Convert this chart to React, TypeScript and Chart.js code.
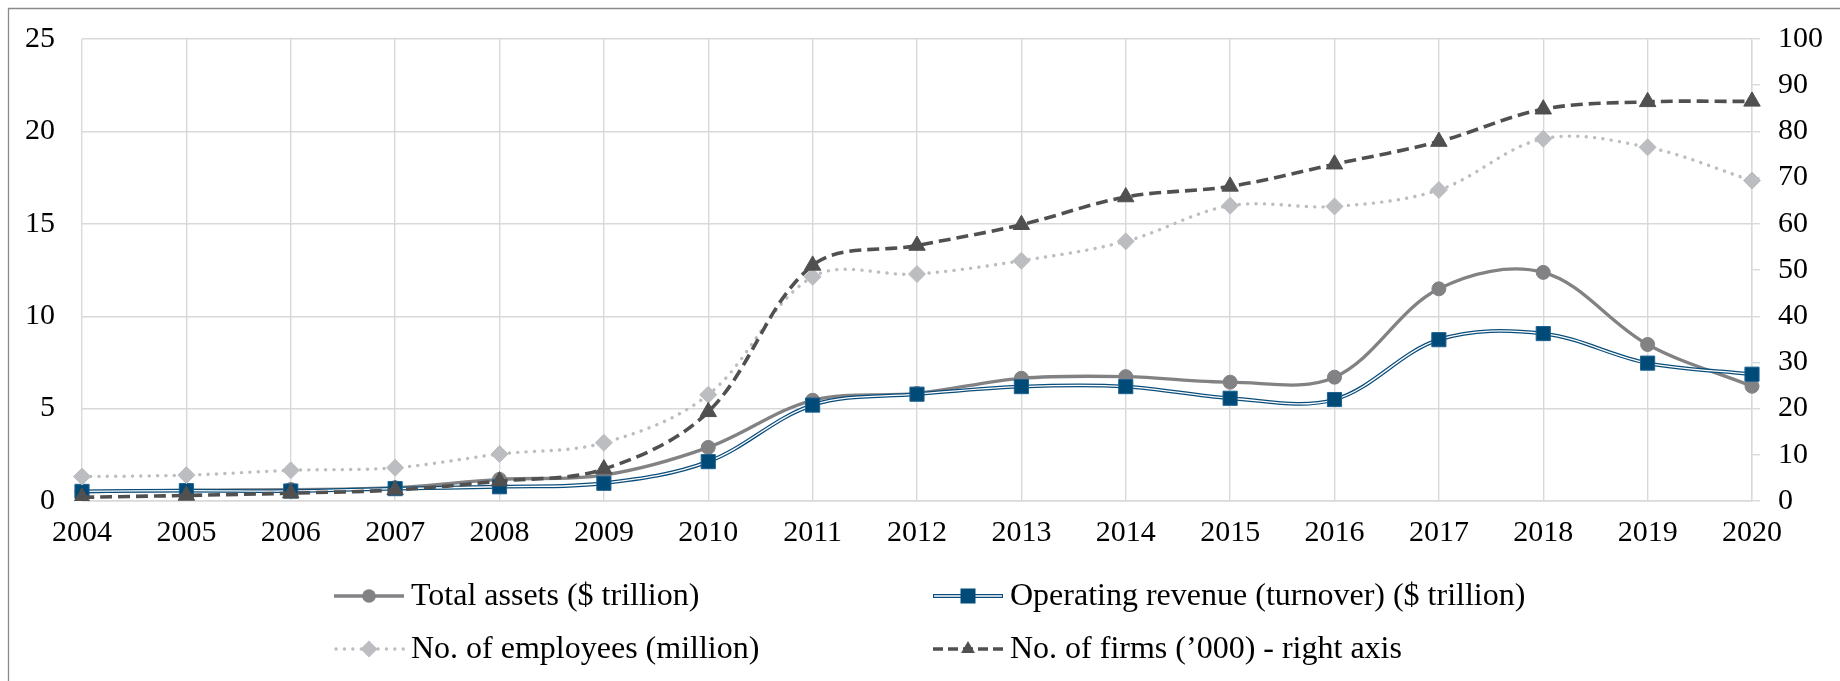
import React, { useEffect, useRef } from "react";
import { Chart, registerables } from "chart.js";

Chart.register(...registerables);

// Years on the category axis
const years = [
  "2004", "2005", "2006", "2007", "2008", "2009", "2010", "2011", "2012",
  "2013", "2014", "2015", "2016", "2017", "2018", "2019", "2020",
];

// Left axis series
const totalAssets = [0.5, 0.58, 0.62, 0.72, 1.17, 1.4, 2.9, 5.45, 5.82, 6.64, 6.73, 6.43, 6.7, 11.48, 12.37, 8.47, 6.21];
const operatingRevenue = [0.52, 0.56, 0.54, 0.67, 0.77, 0.96, 2.13, 5.19, 5.78, 6.19, 6.19, 5.56, 5.49, 8.73, 9.06, 7.46, 6.86];
const employees = [1.32, 1.4, 1.66, 1.8, 2.54, 3.15, 5.75, 12.13, 12.28, 13.0, 14.05, 15.98, 15.94, 16.83, 19.6, 19.14, 17.34];

// Right axis series ('000 firms)
const firms = [0.8, 1.2, 1.7, 2.4, 4.3, 6.9, 19.3, 51.0, 55.3, 59.8, 65.8, 68.1, 72.9, 77.8, 84.8, 86.4, 86.5];

// Axis ranges
const leftMax = 25;
const leftStep = 5;
const rightMax = 100;
const rightStep = 10;

// Legend labels
const labelAssets = "Total assets ($ trillion)";
const labelRevenue = "Operating revenue (turnover) ($ trillion)";
const labelEmployees = "No. of employees (million)";
const labelFirms = "No. of firms (\u2019000) - right axis";

const FONT = "'Liberation Serif', 'Times New Roman', serif";
const GRID = "#d9d9d9";
const C_ASSETS = "#828284";
const C_REV = "#0a4d7b";
const C_REV_MARK = "#004a78";
const C_EMP = "#bcbdc0";
const C_FIRMS = "#505050";
const TENSION = 0.35;

type Kind = "assets" | "revenue" | "employees" | "firms";

function drawSample(ctx: CanvasRenderingContext2D, kind: Kind, x0: number, y: number) {
  const x1 = x0 + 70;
  const cx = (x0 + x1) / 2;
  ctx.save();
  ctx.lineCap = "butt";
  if (kind === "assets") {
    ctx.strokeStyle = C_ASSETS;
    ctx.lineWidth = 3.3;
    ctx.beginPath();
    ctx.moveTo(x0, y);
    ctx.lineTo(x1, y);
    ctx.stroke();
    ctx.fillStyle = C_ASSETS;
    ctx.beginPath();
    ctx.arc(cx, y, 6.8, 0, Math.PI * 2);
    ctx.fill();
  } else if (kind === "revenue") {
    ctx.strokeStyle = C_REV;
    ctx.lineWidth = 4;
    ctx.beginPath();
    ctx.moveTo(x0, y);
    ctx.lineTo(x1, y);
    ctx.stroke();
    ctx.strokeStyle = "#ffffff";
    ctx.lineWidth = 1.4;
    ctx.beginPath();
    ctx.moveTo(x0 + 1, y);
    ctx.lineTo(x1 - 1, y);
    ctx.stroke();
    ctx.fillStyle = C_REV_MARK;
    ctx.fillRect(cx - 7.5, y - 7.5, 15, 15);
  } else if (kind === "employees") {
    ctx.strokeStyle = C_EMP;
    ctx.lineWidth = 3.3;
    ctx.lineCap = "round";
    ctx.setLineDash([0.1, 8.3]);
    ctx.beginPath();
    ctx.moveTo(x0 + 2, y);
    ctx.lineTo(x1, y);
    ctx.stroke();
    ctx.setLineDash([]);
    ctx.fillStyle = C_EMP;
    ctx.beginPath();
    ctx.moveTo(cx, y - 8.5);
    ctx.lineTo(cx + 8.5, y);
    ctx.lineTo(cx, y + 8.5);
    ctx.lineTo(cx - 8.5, y);
    ctx.closePath();
    ctx.fill();
  } else {
    ctx.strokeStyle = C_FIRMS;
    ctx.lineWidth = 3.6;
    ctx.setLineDash([10, 5]);
    ctx.beginPath();
    ctx.moveTo(x0, y);
    ctx.lineTo(x1, y);
    ctx.stroke();
    ctx.setLineDash([]);
    ctx.fillStyle = C_FIRMS;
    const r = 8;
    ctx.beginPath();
    ctx.moveTo(cx, y - r);
    ctx.lineTo(cx + r * 0.866, y + r * 0.5);
    ctx.lineTo(cx - r * 0.866, y + r * 0.5);
    ctx.closePath();
    ctx.fill();
  }
  ctx.restore();
}

// Frame lines and the two-column legend under the plot
const decorations = {
  id: "decorations",
  beforeDraw(chart: Chart) {
    const ctx = chart.ctx;
    ctx.save();
    ctx.strokeStyle = "#8a8a8a";
    ctx.lineWidth = 1.3;
    ctx.beginPath();
    ctx.moveTo(8.5, chart.height);
    ctx.lineTo(8.5, 8.5);
    ctx.lineTo(chart.width, 8.5);
    ctx.stroke();
    ctx.restore();
  },
  afterDraw(chart: Chart) {
    const ctx = chart.ctx;
    const items: [Kind, string, number, number][] = [
      ["assets", labelAssets, 334, 596],
      ["revenue", labelRevenue, 933, 596],
      ["employees", labelEmployees, 334, 649],
      ["firms", labelFirms, 933, 649],
    ];
    ctx.save();
    ctx.font = `32px ${FONT}`;
    ctx.fillStyle = "#000000";
    ctx.textBaseline = "middle";
    ctx.textAlign = "left";
    for (const [kind, text, x, y] of items) {
      drawSample(ctx, kind, x, y);
      ctx.fillText(text, x + 77, y + 1);
    }
    ctx.restore();
  },
};

// Keep label overhang from pushing the plot area down
const noVerticalPadding = (s: any) => {
  s.paddingTop = 0;
  s.paddingBottom = 0;
};

export default function App() {
  const canvasRef = useRef<HTMLCanvasElement | null>(null);

  useEffect(() => {
    document.body.style.margin = "0";
    document.body.style.overflow = "hidden";
    const canvas = canvasRef.current;
    if (!canvas) return;

    const tickFont = { family: FONT, size: 30 };

    const chart = new Chart(canvas, {
      type: "line",
      data: {
        labels: years,
        datasets: [
          {
            label: labelAssets,
            data: totalAssets,
            yAxisID: "y",
            borderColor: C_ASSETS,
            borderWidth: 3.3,
            tension: TENSION,
            pointStyle: "circle",
            pointRadius: 7,
            pointBackgroundColor: C_ASSETS,
            pointBorderColor: C_ASSETS,
            pointBorderWidth: 1,
            order: 4,
          },
          {
            label: "revenue-outline",
            data: operatingRevenue,
            yAxisID: "y",
            borderColor: C_REV,
            borderWidth: 3.8,
            tension: TENSION,
            pointRadius: 0,
            order: 3,
          },
          {
            label: labelRevenue,
            data: operatingRevenue,
            yAxisID: "y",
            borderColor: "#ffffff",
            borderWidth: 1.3,
            tension: TENSION,
            pointStyle: "rect",
            pointRadius: 10,
            pointBackgroundColor: C_REV_MARK,
            pointBorderColor: "#1d6191",
            pointBorderWidth: 1,
            order: 2,
          },
          {
            label: labelEmployees,
            data: employees,
            yAxisID: "y",
            borderColor: C_EMP,
            borderWidth: 3.4,
            borderDash: [0.1, 8.3],
            borderCapStyle: "round",
            tension: TENSION,
            pointStyle: "rectRot",
            pointRadius: 8.5,
            pointBackgroundColor: C_EMP,
            pointBorderColor: C_EMP,
            pointBorderWidth: 1,
            order: 1,
          },
          {
            label: labelFirms,
            data: firms,
            yAxisID: "y1",
            borderColor: C_FIRMS,
            borderWidth: 3.6,
            borderDash: [12, 6],
            tension: TENSION,
            pointStyle: "triangle",
            pointRadius: 9.5,
            pointBackgroundColor: C_FIRMS,
            pointBorderColor: C_FIRMS,
            pointBorderWidth: 1,
            order: 0,
          },
        ],
      },
      options: {
        responsive: false,
        animation: false,
        events: [],
        layout: { padding: { top: 39, left: 0, right: 0, bottom: 0 } },
        plugins: {
          legend: { display: false },
          tooltip: { enabled: false },
        },
        scales: {
          x: {
            type: "category",
            offset: false,
            grid: { color: GRID, lineWidth: 1.4, drawTicks: false },
            border: { color: GRID, width: 1.4 },
            ticks: {
              color: "#000000",
              font: tickFont,
              padding: 14,
              maxRotation: 0,
              autoSkip: false,
            },
            afterFit: (s: any) => {
              s.height = 180;
            },
          },
          y: {
            position: "left",
            min: 0,
            max: leftMax,
            grid: { color: GRID, lineWidth: 1.4, drawTicks: false },
            border: { display: false },
            ticks: {
              stepSize: leftStep,
              color: "#000000",
              font: tickFont,
              padding: 27,
            },
            afterFit: (s: any) => {
              s.width = 82;
              noVerticalPadding(s);
            },
          },
          y1: {
            position: "right",
            min: 0,
            max: rightMax,
            grid: {
              drawOnChartArea: false,
              drawTicks: true,
              tickLength: 8,
              color: GRID,
              lineWidth: 1.4,
            },
            border: { color: GRID, width: 1.4 },
            ticks: {
              stepSize: rightStep,
              color: "#000000",
              font: tickFont,
              padding: 18,
            },
            afterFit: (s: any) => {
              s.width = 88;
              noVerticalPadding(s);
            },
          },
        },
      },
      plugins: [decorations],
    });

    return () => {
      chart.destroy();
    };
  }, []);

  return (
    <canvas
      ref={canvasRef}
      width={1840}
      height={681}
      style={{ display: "block", width: 1840, height: 681 }}
    />
  );
}
